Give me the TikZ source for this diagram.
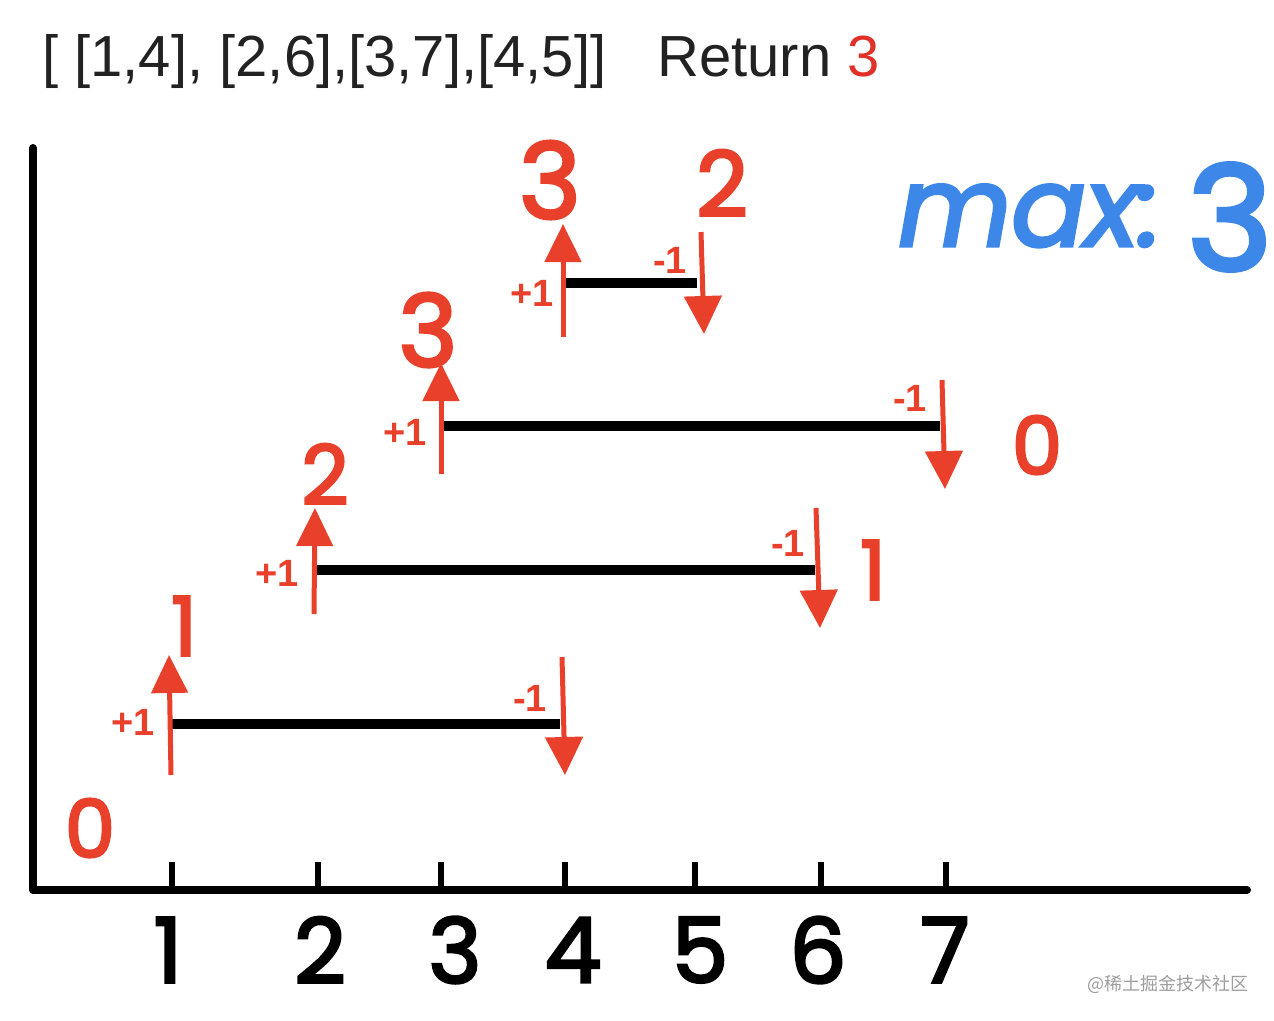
\documentclass[tikz,border=0pt]{standalone}
\usepackage{fontspec}
\setmainfont{Liberation Sans}
\newfontfamily\hand[FakeBold=3]{Poppins}
\newfontfamily\cjk{Noto Sans CJK SC}
\usetikzlibrary{arrows.meta}
\definecolor{hred}{RGB}{232,64,42}
\definecolor{tred}{RGB}{224,48,40}
\definecolor{hblue}{RGB}{61,135,232}
\definecolor{ttl}{RGB}{34,34,34}
\begin{document}
\begin{tikzpicture}[x=1pt,y=-1pt,
  axisline/.style={line width=8pt,black,line cap=round,line join=round},
  tickline/.style={line width=6pt,black},
  barline/.style={line width=10pt,black},
  uparrow/.style={draw=hred,line width=5pt,-{Triangle[width=36pt,length=38pt]}},
  downarrow/.style={draw=hred,line width=5pt,-{Triangle[width=37pt,length=38pt]}},
  pmlabel/.style={text=hred,font=\bfseries\fontsize{38}{38}\selectfont,inner sep=0pt},
  handred/.style={text=hred,font=\hand\fontsize{#1}{#1}\selectfont,inner sep=0pt},
  handblack/.style={text=black,font=\hand\fontsize{90}{90}\selectfont,inner sep=0pt},
  title/.style={text=ttl,font=\fontsize{58}{58}\selectfont,inner sep=0pt,anchor=base west}
]
\useasboundingbox[fill=white] (0,0) rectangle (1274,1020);

% title
\node[title] (t1) at (42,76) {[ [1,4], [2,6],[3,7],[4,5]]};
\node[title] (t2) at (657,76) {Return \textcolor{tred}{3}};

% axes
\coordinate (ytop) at (33,148);
\coordinate (orig) at (33,890);
\coordinate (xend) at (1247,890);
\draw[axisline] (ytop) -- (orig) -- (xend);

% ticks and labels
\foreach \n/\x/\lx in {1/172/168,2/318/320,3/441/455,4/565/573,5/695/700,6/821/818,7/946/945}{
  \coordinate (tk\n) at (\x,862);
  \coordinate (tb\n) at (\x,890);
  \draw[tickline] (tk\n) -- (tb\n);
  \node[handblack] (lab\n) at (\lx,950) {\n};
}

% interval [1,4]
\coordinate (b1s) at (172,724); \coordinate (b1e) at (560,724);
\draw[barline] (b1s) -- (b1e);
\coordinate (u1s) at (171,775); \coordinate (u1e) at (169,655);
\draw[uparrow] (u1s) -- (u1e);
\coordinate (d1s) at (562,657); \coordinate (d1e) at (565,775);
\draw[downarrow] (d1s) -- (d1e);
\node[pmlabel] (p1) at (133,722) {+1};
\node[pmlabel] (m1) at (530,698) {-1};

% interval [2,6]
\coordinate (b2s) at (316,570); \coordinate (b2e) at (815,570);
\draw[barline] (b2s) -- (b2e);
\coordinate (u2s) at (314,614); \coordinate (u2e) at (315,508);
\draw[uparrow] (u2s) -- (u2e);
\coordinate (d2s) at (816,508); \coordinate (d2e) at (820,628);
\draw[downarrow] (d2s) -- (d2e);
\node[pmlabel] (p2) at (277,573) {+1};
\node[pmlabel] (m2) at (788,543) {-1};

% interval [3,7]
\coordinate (b3s) at (442,426); \coordinate (b3e) at (940,426);
\draw[barline] (b3s) -- (b3e);
\coordinate (u3s) at (441,474); \coordinate (u3e) at (441,363);
\draw[uparrow] (u3s) -- (u3e);
\coordinate (d3s) at (942,380); \coordinate (d3e) at (945,489);
\draw[downarrow] (d3s) -- (d3e);
\node[pmlabel] (p3) at (405,432) {+1};
\node[pmlabel] (m3) at (910,398) {-1};

% interval [4,5]
\coordinate (b4s) at (566,283); \coordinate (b4e) at (697,283);
\draw[barline] (b4s) -- (b4e);
\coordinate (u4s) at (563,337); \coordinate (u4e) at (563,224);
\draw[uparrow] (u4s) -- (u4e);
\coordinate (d4s) at (701,232); \coordinate (d4e) at (704,334);
\draw[downarrow] (d4s) -- (d4e);
\node[pmlabel] (p4) at (532,293) {+1};
\node[pmlabel] (m4) at (670,260) {-1};

% running counts
\node[handred=80] (c0) at (90,828) {0};
\node[handred=82] (c1) at (184,626) {1};
\node[handred=82] (c2) at (325,474) {2};
\node[handred=100] (c3) at (428,330) {3};
\node[handred=105] (c4) at (550,180) {3};
\node[handred=90] (c5) at (722,183) {2};
\node[handred=80] (c6) at (1037,445) {0};
\node[handred=82] (c7) at (873,570) {1};

% max
\node[text=hblue,font=\hand\itshape\fontsize{110}{110}\selectfont,inner sep=0pt,anchor=base west] (mx) at (898,246) {max:};
\node[text=hblue,font=\hand\fontsize{145}{145}\selectfont,inner sep=0pt] (mv) at (1230,217) {3};

% watermark
\node[text=black!38,font=\cjk\fontsize{18}{18}\selectfont,inner sep=0pt] (wm) at (1168,984) {@稀土掘金技术社区};
\end{tikzpicture}
\end{document}
